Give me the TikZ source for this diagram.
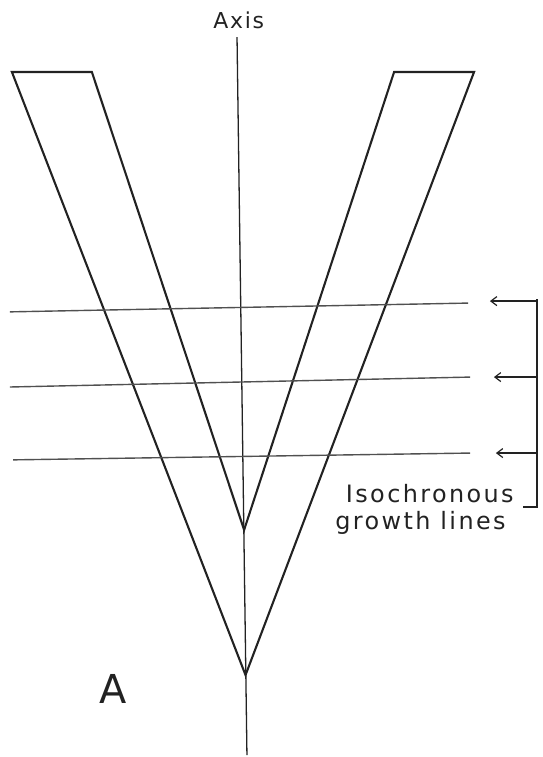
\documentclass[tikz,border=0pt]{standalone}
\usepackage{fontspec}
\usepackage{xcolor}
\usepackage{tikz}
\usetikzlibrary{arrows.meta}
\usetikzlibrary{backgrounds,positioning}
\newfontfamily\lettering[LetterSpace=10]{DejaVu Sans}
\newfontfamily\axislettering[LetterSpace=8]{DejaVu Sans}
\pgfdeclarelayer{edgelayer}
\pgfdeclarelayer{nodelayer}
\pgfsetlayers{background,edgelayer,nodelayer,main}
\definecolor{ink}{RGB}{34,34,34}
\definecolor{pencil}{RGB}{80,80,80}
\tikzstyle{none}=[inner sep=0mm]
\tikzstyle{wall}=[draw=ink,line width=2.1pt,line join=miter]
\tikzstyle{axisline}=[draw=ink,line width=1.3pt]
\tikzstyle{growth}=[draw=pencil,line width=1.4pt]
\tikzstyle{pointer}=[draw=ink,line width=1.2pt,-{Straight Barb[length=6pt,width=9pt]}]
\tikzstyle{brace}=[draw=ink,line width=1.3pt]
\tikzstyle{caption}=[inner sep=0mm,anchor=base,text=ink,font=\lettering\fontsize{24}{28}\selectfont]
\tikzstyle{axiscaption}=[inner sep=0mm,anchor=base,text=ink,font=\axislettering\fontsize{22}{26}\selectfont]
\tikzstyle{panel}=[inner sep=0mm,anchor=base,text=ink,font=\fontspec{DejaVu Sans}\fontsize{40}{44}\selectfont]

\begin{document}
\begin{tikzpicture}
	\useasboundingbox (0, 0) rectangle (19.12, 26.70);
	\begin{pgfonlayer}{nodelayer}
		% the V
		\node [style=none] (lo) at (0.42, 24.16) {};
		\node [style=none] (li) at (3.24, 24.16) {};
		\node [style=none] (ri) at (13.90, 24.16) {};
		\node [style=none] (ro) at (16.72, 24.16) {};
		\node [style=none] (vi) at (8.61, 8.01) {};
		\node [style=none] (vo) at (8.66, 2.89) {};
		\node [style=none] (axt) at (8.36, 25.39) {};
		\node [style=none] (axb) at (8.71, 0.07) {};
		% growth lines
		\node [style=none] (g1l) at (0.35, 15.70) {};
		\node [style=none] (g1r) at (16.51, 16.01) {};
		\node [style=none] (g2l) at (0.35, 13.05) {};
		\node [style=none] (g2r) at (16.58, 13.40) {};
		\node [style=none] (g3l) at (0.46, 10.48) {};
		\node [style=none] (g3r) at (16.58, 10.72) {};
		% pointers and bracket
		\node [style=none] (p1) at (17.28, 16.08) {};
		\node [style=none] (b1) at (18.94, 16.08) {};
		\node [style=none] (p2) at (17.42, 13.40) {};
		\node [style=none] (b2) at (18.94, 13.40) {};
		\node [style=none] (p3) at (17.49, 10.72) {};
		\node [style=none] (b3) at (18.94, 10.72) {};
		\node [style=none] (bt) at (18.94, 16.15) {};
		\node [style=none] (bb) at (18.94, 8.82) {};
		\node [style=none] (bf) at (18.45, 8.82) {};
		% labels
		\node [style=axiscaption] (axis) at (8.42, 25.71) {Axis};
		\node [style=caption] (iso) at (15.16, 8.96) {Isochronous};
		\node [style=caption] (gl) at (14.83, 8.01) {growth lines};
		\node [style=panel] (A) at (4.00, 1.87) {A};
	\end{pgfonlayer}
	\begin{pgfonlayer}{edgelayer}
		\draw [style=axisline] (axt.center) to (axb.center);
		\draw [style=wall] (lo.center) to (li.center) to (vi.center) to (ri.center) to (ro.center) to (vo.center) to cycle;
		\draw [style=growth] (g1l.center) to (g1r.center);
		\draw [style=growth] (g2l.center) to (g2r.center);
		\draw [style=growth] (g3l.center) to (g3r.center);
		\draw [style=pointer] (b1.center) to (p1.center);
		\draw [style=pointer] (b2.center) to (p2.center);
		\draw [style=pointer] (b3.center) to (p3.center);
		\draw [style=brace] (bt.center) to (bb.center) to (bf.center);
	\end{pgfonlayer}
\end{tikzpicture}
\end{document}
